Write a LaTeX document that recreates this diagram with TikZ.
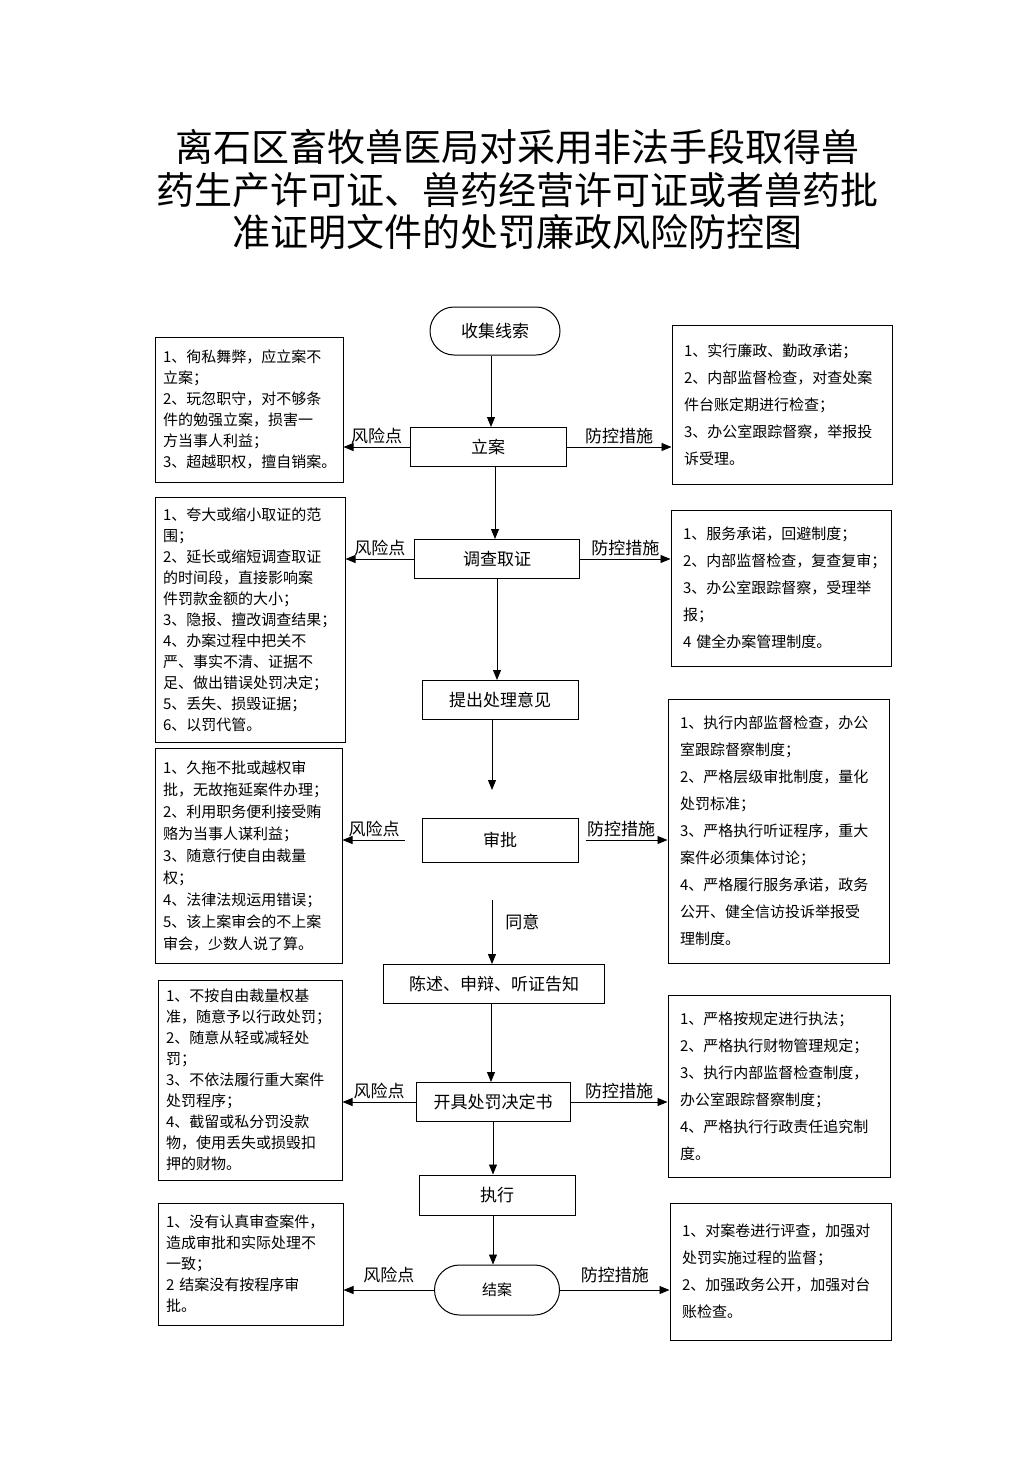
\documentclass[tikz,border=0pt]{standalone}
\usepackage{fontspec}
\newfontfamily\cjk{Noto Sans CJK SC}
\usetikzlibrary{arrows.meta}

\begin{document}
\begin{tikzpicture}[x=1pt, y=-1pt,
  stepbox/.style={draw, line width=1pt, minimum height=39pt, font=\cjk\fontsize{17}{20}\selectfont},
  endbox/.style={draw, line width=1pt, minimum height=48pt, rounded corners=24pt, font=\cjk\fontsize{17}{20}\selectfont},
  riskbox/.style={draw, line width=1pt, align=left, inner xsep=8pt, font=\cjk\fontsize{15}{21}\selectfont},
  ctrlbox/.style={draw, line width=1pt, align=left, inner xsep=12pt, font=\cjk\fontsize{15}{27}\selectfont},
  flow/.style={-{Triangle[length=10pt,width=8pt]}, line width=0.9pt},
  tag/.style={font=\cjk\fontsize{17}{20}\selectfont, inner sep=3pt}]

\path[fill=white, use as bounding box] (0,0) rectangle (1033,1461);

% title
\node[font=\cjk\fontsize{38}{42.5}\selectfont, align=center] (title) at (517,190)
  {离石区畜牧兽医局对采用非法手段取得兽\\药生产许可证、兽药经营许可证或者兽药批\\准证明文件的处罚廉政风险防控图};

% main flow
\node[endbox, minimum width=130pt] (shouji) at (495,331) {收集线索};
\node[stepbox, minimum width=156pt] (lian) at (488,447) {立案};
\node[stepbox, minimum width=165pt] (diaocha) at (497,559) {调查取证};
\node[stepbox, minimum width=156pt] (tichu) at (500,700) {提出处理意见};
\node[stepbox, minimum width=156pt, minimum height=44pt] (shenpi) at (500,840) {审批};
\node[stepbox, minimum width=221pt] (chenshu) at (494,984) {陈述、申辩、听证告知};
\node[stepbox, minimum width=154pt] (kaiju) at (493,1102) {开具处罚决定书};
\node[stepbox, minimum width=156pt, minimum height=40pt] (zhixing) at (497,1195) {执行};
\node[endbox, minimum width=125pt, minimum height=50pt, rounded corners=25pt, font=\cjk\fontsize{15}{18}\selectfont] (jiean) at (497,1290) {结案};

% risk points
\node[riskbox, text width=172pt, minimum height=145pt] (fx1) at (249,409.5)
  {1、徇私舞弊，应立案不\\立案；\\2、玩忽职守，对不够条\\件的勉强立案，损害一\\方当事人利益；\\3、超越职权，擅自销案。};
\node[riskbox, text width=174pt, minimum height=245pt] (fx2) at (250,619.5)
  {1、夸大或缩小取证的范\\围；\\2、延长或缩短调查取证\\的时间段，直接影响案\\件罚款金额的大小；\\3、隐报、擅改调查结果；\\4、办案过程中把关不\\严、事实不清、证据不\\足、做出错误处罚决定；\\5、丢失、损毁证据；\\6、以罚代管。};
\node[riskbox, text width=171pt, minimum height=215pt, font=\cjk\fontsize{15}{22}\selectfont] (fx3) at (248.5,855.5)
  {1、久拖不批或越权审\\批，无故拖延案件办理；\\2、利用职务便利接受贿\\赂为当事人谋利益；\\3、随意行使自由裁量\\权；\\4、法律法规运用错误；\\5、该上案审会的不上案\\审会，少数人说了算。};
\node[riskbox, text width=168pt, minimum height=200pt] (fx4) at (250,1080)
  {1、不按自由裁量权基\\准，随意予以行政处罚；\\2、随意从轻或减轻处\\罚；\\3、不依法履行重大案件\\处罚程序；\\4、截留或私分罚没款\\物，使用丢失或损毁扣\\押的财物。};
\node[riskbox, text width=169pt, minimum height=122pt] (fx5) at (250.5,1264)
  {1、没有认真审查案件，\\造成审批和实际处理不\\一致；\\2 结案没有按程序审\\批。};

% control measures
\node[ctrlbox, text width=196pt, minimum height=159pt] (fk1) at (782,404.5)
  {1、实行廉政、勤政承诺；\\2、内部监督检查，对查处案\\件台账定期进行检查；\\3、办公室跟踪督察，举报投\\诉受理。};
\node[ctrlbox, text width=196pt, minimum height=156pt] (fk2) at (781,588)
  {1、服务承诺，回避制度；\\2、内部监督检查，复查复审；\\3、办公室跟踪督察，受理举\\报；\\4 健全办案管理制度。};
\node[ctrlbox, text width=197pt, minimum height=264pt] (fk3) at (778.5,831)
  {1、执行内部监督检查，办公\\室跟踪督察制度；\\2、严格层级审批制度，量化\\处罚标准；\\3、严格执行听证程序，重大\\案件必须集体讨论；\\4、严格履行服务承诺，政务\\公开、健全信访投诉举报受\\理制度。};
\node[ctrlbox, text width=198pt, minimum height=182pt] (fk4) at (779,1086)
  {1、严格按规定进行执法；\\2、严格执行财物管理规定；\\3、执行内部监督检查制度，\\办公室跟踪督察制度；\\4、严格执行行政责任追究制\\度。};
\node[ctrlbox, text width=197pt, minimum height=137pt] (fk5) at (780.5,1271.5)
  {1、对案卷进行评查，加强对\\处罚实施过程的监督；\\2、加强政务公开，加强对台\\账检查。};

% loose ends around 审批
\coordinate (gap1) at (492,790);
\coordinate (agree) at (492,900);

% vertical arrows
\draw[flow] (shouji.south -| 491,0) -- (lian.north -| 491,0);
\draw[flow] (lian.south -| 495,0) -- (diaocha.north -| 495,0);
\draw[flow] (diaocha.south -| 497,0) -- (tichu.north -| 497,0);
\draw[flow] (tichu.south -| gap1) -- (gap1);
\draw[flow] (agree) -- (chenshu.north -| agree) node[pos=.35, right=10pt, tag] {同意};
\draw[flow] (chenshu.south -| 491,0) -- (kaiju.north -| 491,0);
\draw[flow] (kaiju.south -| 493,0) -- (zhixing.north -| 493,0);
\draw[flow] (zhixing.south -| 493,0) -- (jiean.north -| 493,0);

% side arrows
\draw[flow] (lian.west) -- (lian.west -| fx1.east) node[midway, above, tag] {风险点};
\draw[flow] (lian.east) -- (lian.east -| fk1.west) node[midway, above, tag] {防控措施};
\draw[flow] (diaocha.west) -- (diaocha.west -| fx2.east) node[midway, above, tag] {风险点};
\draw[flow] (diaocha.east) -- (diaocha.east -| fk2.west) node[midway, above, tag] {防控措施};
\draw[flow, shorten <=17pt] (shenpi.west) -- (shenpi.west -| fx3.east) node[pos=.6, above, tag] {风险点};
\draw[flow, shorten <=7pt] (shenpi.east) -- (shenpi.east -| fk3.west) node[pos=.48, above, tag] {防控措施};
\draw[flow] (kaiju.west) -- (kaiju.west -| fx4.east) node[midway, above, tag] {风险点};
\draw[flow] (kaiju.east) -- (kaiju.east -| fk4.west) node[midway, above, tag] {防控措施};
\draw[flow] (jiean.west) -- (jiean.west -| fx5.east) node[midway, above=4pt, tag] {风险点};
\draw[flow] (jiean.east) -- (jiean.east -| fk5.west) node[midway, above=4pt, tag] {防控措施};
\end{tikzpicture}
\end{document}
